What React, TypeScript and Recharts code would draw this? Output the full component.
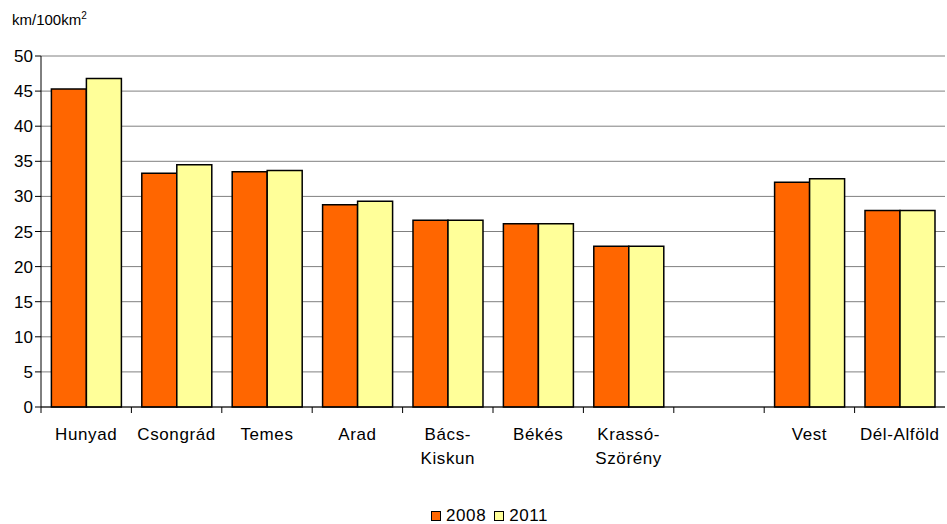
import React from 'react';
import { BarChart, Bar, XAxis, YAxis, CartesianGrid } from 'recharts';

const categories = ['Hunyad', 'Csongrád', 'Temes', 'Arad', 'Bács-Kiskun', 'Békés', 'Krassó-Szörény', '', 'Vest', 'Dél-Alföld'];
const values2008 = [45.3, 33.3, 33.5, 28.8, 26.6, 26.1, 22.9, null, 32.0, 28.0];
const values2011 = [46.8, 34.5, 33.7, 29.3, 26.6, 26.1, 22.9, null, 32.5, 28.0];
const yTicks = [0, 5, 10, 15, 20, 25, 30, 35, 40, 45, 50];

const data = categories.map((name, i) => ({ name, v2008: values2008[i], v2011: values2011[i] }));

const FONT = '"Liberation Sans", Arial, sans-serif';
const BAND = 904 / categories.length;

const CategoryTick = (props: any) => {
  const { x, y, payload } = props;
  const label: string = payload.value || '';
  const idx = label.indexOf('-');
  const lines = idx > 0 && !label.startsWith('Dél') ? [label.slice(0, idx + 1), label.slice(idx + 1)] : [label];
  return (
    <g>
      <line x1={x - BAND / 2} x2={x - BAND / 2} y1={y - 8} y2={y - 2} stroke="#000" strokeWidth={1} />
      {lines.map((l, i) => (
        <text key={i} x={x} y={y + 25 + i * 24} textAnchor="middle" fontSize={17} letterSpacing={0.6} fill="#000" fontFamily={FONT}>
          {l}
        </text>
      ))}
    </g>
  );
};

const swatch = (color: string) => ({
  display: 'inline-block',
  width: 8,
  height: 8,
  background: color,
  border: '1.5px solid #000',
  marginRight: 5,
});

export default function App() {
  return (
    <div style={{ position: 'absolute', left: 0, top: 0, width: 947, height: 524, background: '#fff' }}>
      <BarChart
        width={947}
        height={524}
        data={data}
        margin={{ top: 56, right: 2, bottom: 37, left: 0 }}
        barCategoryGap="11.5%"
        barGap={0}
      >
        <text x={12} y={25} fontSize={15} fontFamily={FONT} fill="#000">
          km/100km<tspan fontSize={10} dy={-6}>2</tspan>
        </text>
        <CartesianGrid vertical={false} stroke="#808080" strokeWidth={1} />
        <XAxis
          dataKey="name"
          interval={0}
          tickLine={false}
          axisLine={{ stroke: '#000' }}
          tick={<CategoryTick />}
          height={80}
        />
        <YAxis
          width={41}
          domain={[0, 50]}
          ticks={yTicks}
          interval={0}
          axisLine={{ stroke: '#000' }}
          tickLine={{ stroke: '#000' }}
          tickSize={6}
          tick={{ fill: '#000', fontSize: 17, fontFamily: FONT }}
        />
        <Bar dataKey="v2008" name="2008" fill="#FF6600" stroke="#000" strokeWidth={1.5} isAnimationActive={false} />
        <Bar dataKey="v2011" name="2011" fill="#FFFF99" stroke="#000" strokeWidth={1.5} isAnimationActive={false} />
      </BarChart>
      <div
        style={{
          position: 'absolute',
          left: 431,
          top: 506,
          display: 'flex',
          alignItems: 'center',
          fontFamily: FONT,
          fontSize: 17,
          letterSpacing: 0.6,
          color: '#000',
          lineHeight: '20px',
        }}
      >
        <span style={swatch('#FF6600')} />
        <span style={{ marginRight: 8 }}>2008</span>
        <span style={swatch('#FFFF99')} />
        <span>2011</span>
      </div>
    </div>
  );
}
